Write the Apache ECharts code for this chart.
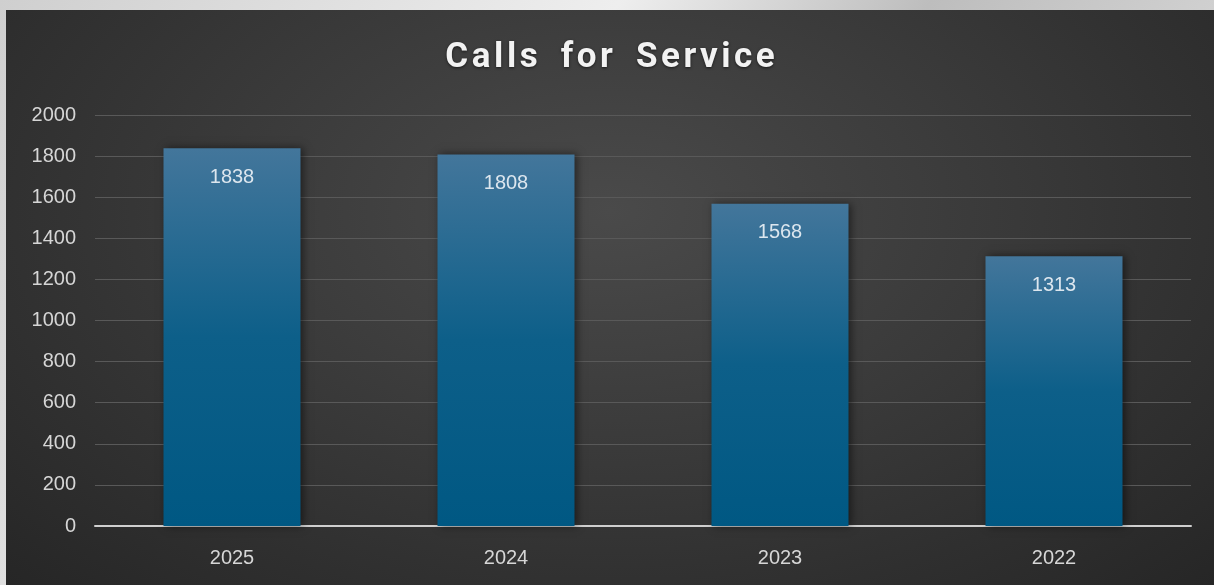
<!DOCTYPE html>
<html>
<head>
<meta charset="utf-8">
<title>Calls for Service</title>
<script src="https://cdn.jsdelivr.net/npm/echarts@6/dist/echarts.min.js"></script>
<style>
  html, body {
    margin: 0;
    padding: 0;
    width: 1214px;
    height: 585px;
    overflow: hidden;
    background: linear-gradient(120deg, #cfcfcf, #eeeeee 40%, #bdbdbd 60%, #e6e6e6);
  }
  #chart {
    position: absolute;
    left: 6px;
    top: 10px;
    width: 1208px;
    height: 575px;
    background: radial-gradient(ellipse at 50% 35%, #4a4a4a 0%, #3a3a3a 45%, #262626 100%);
  }
</style>
</head>
<body>
<div id="chart"></div>
<script>
// data
const titleText = "Calls for Service";
const years = ["2025", "2024", "2023", "2022"];
const calls = [1838, 1808, 1568, 1313];

// spread the title letters a bit (canvas text has no letter-spacing here)
const spaced = titleText.split(" ").map(w => w.split("").join("\u200A")).join("\u2009 \u2009");

const chart = echarts.init(document.getElementById("chart"));

const option = {
  backgroundColor: "transparent",
  animation: false,
  title: {
    text: spaced,
    left: "center",
    top: 26,
    textStyle: {
      fontFamily: "Roboto",
      fontWeight: "bold",
      fontSize: 35,
      color: "#f2f2f2",
      textShadowColor: "rgba(0,0,0,0.6)",
      textShadowBlur: 3,
      textShadowOffsetY: 1
    }
  },
  grid: {
    left: 89,
    right: 23,
    top: 105,
    bottom: 59
  },
  xAxis: {
    type: "category",
    data: years,
    axisLine: { lineStyle: { color: "#cfcfcf", width: 2 } },
    axisTick: { show: false },
    axisLabel: {
      color: "#d6d6d6",
      fontFamily: "Liberation Sans",
      fontSize: 20,
      margin: 22
    }
  },
  yAxis: {
    type: "value",
    min: 0,
    max: 2000,
    interval: 200,
    axisLine: { show: false },
    axisTick: { show: false },
    axisLabel: {
      color: "#d6d6d6",
      fontFamily: "Liberation Sans",
      fontSize: 20,
      margin: 19,
      formatter: v => String(v)
    },
    splitLine: { lineStyle: { color: "#595959", width: 1 } }
  },
  series: [
    {
      type: "bar",
      data: calls,
      barWidth: "50%",
      itemStyle: {
        color: new echarts.graphic.LinearGradient(0, 0, 0, 1, [
          { offset: 0, color: "#43769b" },
          { offset: 0.5, color: "#0d5f89" },
          { offset: 1, color: "#005883" }
        ]),
        shadowColor: "rgba(0,0,0,0.5)",
        shadowBlur: 8,
        shadowOffsetX: 2
      },
      label: {
        show: true,
        position: "insideTop",
        distance: 19,
        color: "#dce6ee",
        fontFamily: "Liberation Sans",
        fontSize: 20
      }
    }
  ]
};

chart.setOption(option);
</script>
</body>
</html>
